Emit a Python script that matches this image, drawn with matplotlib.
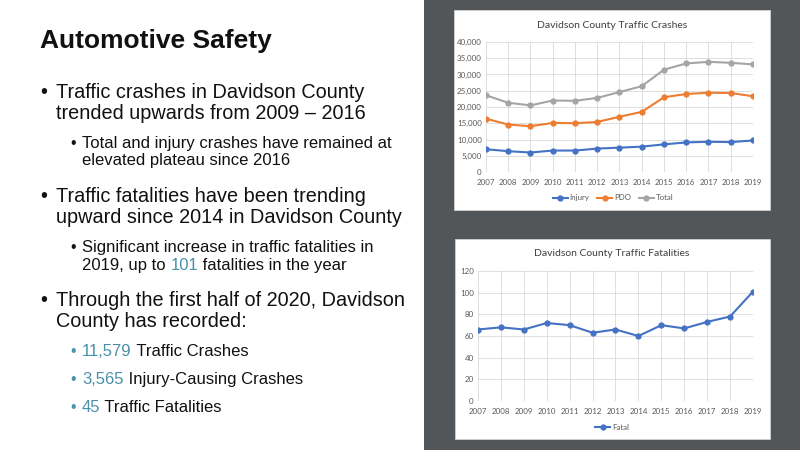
import matplotlib
matplotlib.use("Agg")
import matplotlib.pyplot as plt
from matplotlib.patches import Rectangle
from matplotlib.ticker import FuncFormatter

years = [2007, 2008, 2009, 2010, 2011, 2012, 2013, 2014, 2015, 2016, 2017, 2018, 2019]
injury = [7000, 6400, 6000, 6600, 6600, 7200, 7500, 7800, 8500, 9100, 9300, 9200, 9700]
pdo = [16400, 14600, 14100, 15100, 15000, 15400, 17000, 18500, 23000, 24000, 24400, 24300, 23300]
total = [23600, 21300, 20500, 22000, 21900, 22800, 24600, 26400, 31500, 33400, 33900, 33600, 33100]
fatal = [66, 68, 66, 72, 70, 63, 66, 60, 70, 67, 73, 78, 101]

W, H = 800, 450
fig = plt.figure(figsize=(8, 4.5), dpi=100)
fig.patch.set_facecolor("white")

TXT = "#111111"
HL = "#4a90ab"
SANS = "Liberation Sans"
CHART_FONT = "Lato"

def fx(px):
    return px / W

def fy(py):
    return 1 - py / H

# dark panel
fig.add_artist(Rectangle((fx(424), 0), 1 - fx(424), 1, transform=fig.transFigure,
                         facecolor="#525659", edgecolor="none", zorder=0))
# chart boxes
for (x0, y0, x1, y1) in [(454, 10, 770, 210), (455, 239, 770, 439)]:
    fig.add_artist(Rectangle((fx(x0), fy(y1)), fx(x1 - x0), (y1 - y0) / H,
                             transform=fig.transFigure, facecolor="white",
                             edgecolor="#d0d0d0", linewidth=0.6, zorder=1))

renderer = fig.canvas.get_renderer()

def runs(x_px, y_px, pieces, size):
    x = x_px
    for s, c in pieces:
        t = fig.text(fx(x), fy(y_px), s, color=c, fontsize=size, family=SANS,
                     va="baseline", ha="left")
        bb = t.get_window_extent(renderer=renderer)
        x += bb.width

# title
fig.text(fx(40), fy(48), "Automotive Safety", fontsize=19, fontweight="bold",
         family=SANS, color=TXT, va="baseline")

L1 = 14.3
L2 = 12.0
def bullet1(y, lines):
    fig.text(fx(40), fy(y), "\u2022", fontsize=L1, family=SANS, color=TXT, va="baseline")
    for i, ln in enumerate(lines):
        runs(55.5, y + i * 21.3, [(ln, TXT)], L1)

def bullet2(y, lines, bcol=TXT):
    fig.text(fx(70.5), fy(y), "\u2022", fontsize=L2 * 0.95, family=SANS, color=bcol, va="baseline")
    for i, ln in enumerate(lines):
        runs(82, y + i * 17.5, ln, L2)

bullet1(97.7, ["Traffic crashes in Davidson County", "trended upwards from 2009 \u2013 2016"])
bullet2(147.7, [[("Total and injury crashes have remained at", TXT)],
                [("elevated plateau since 2016", TXT)]])
bullet1(201.7, ["Traffic fatalities have been trending", "upward since 2014 in Davidson County"])
bullet2(252.3, [[("Significant increase in traffic fatalities in", TXT)],
                [("2019, up to ", TXT), ("101", HL), (" fatalities in the year", TXT)]])
bullet1(306, ["Through the first half of 2020, Davidson", "County has recorded:"])
bullet2(355.7, [[("11,579", HL), (" Traffic Crashes", TXT)]], HL)
bullet2(384, [[("3,565", HL), (" Injury-Causing Crashes", TXT)]], HL)
bullet2(412.3, [[("45", HL), (" Traffic Fatalities", TXT)]], HL)

TICK = "#595959"
GRID = "#d9d9d9"

def style_axes(ax):
    ax.set_facecolor("white")
    for s in ax.spines.values():
        s.set_visible(False)
    ax.grid(True, color=GRID, linewidth=0.6)
    ax.set_axisbelow(True)
    ax.set_xlim(years[0], years[-1])
    ax.set_xticks(years)
    ax.tick_params(axis="y", length=0, labelsize=5.7, colors=TICK, pad=3)
    ax.tick_params(axis="x", length=0, labelsize=5.7, colors=TICK, pad=5)
    for lab in ax.get_xticklabels() + ax.get_yticklabels():
        lab.set_family(CHART_FONT)

LW = 1.5
MS = 3.5

# top chart
ax1 = fig.add_axes([fx(486), fy(172), fx(753 - 486), 130 / H], zorder=2)
ax1.plot(years, injury, color="#4472C4", marker="o", markersize=MS, linewidth=LW, label="Injury")
ax1.plot(years, pdo, color="#ED7D31", marker="o", markersize=MS, linewidth=LW, label="PDO")
ax1.plot(years, total, color="#A5A5A5", marker="o", markersize=MS, linewidth=LW, label="Total")
ax1.set_ylim(0, 40000)
ax1.set_yticks(range(0, 40001, 5000))
ax1.yaxis.set_major_formatter(FuncFormatter(lambda v, p: f"{int(v):,}"))
style_axes(ax1)
fig.text(fx(612), fy(25), "Davidson County Traffic Crashes", ha="center", va="center",
         fontsize=7.5, family=CHART_FONT, color="#404040")
leg1 = ax1.legend(loc="center", bbox_to_anchor=(fx(613), fy(198)), bbox_transform=fig.transFigure,
                  ncol=3, frameon=False, handlelength=1.9, columnspacing=1.0,
                  handletextpad=0.2, prop={"family": CHART_FONT, "size": 5.7})
for t in leg1.get_texts():
    t.set_color(TICK)

# bottom chart
ax2 = fig.add_axes([fx(478), fy(401), fx(753 - 478), 130 / H], zorder=2)
ax2.plot(years, fatal, color="#4472C4", marker="o", markersize=MS, linewidth=LW, label="Fatal")
ax2.set_ylim(0, 120)
ax2.set_yticks(range(0, 121, 20))
style_axes(ax2)
fig.text(fx(612), fy(254), "Davidson County Traffic Fatalities", ha="center", va="center",
         fontsize=7.5, family=CHART_FONT, color="#404040")
leg2 = ax2.legend(loc="center", bbox_to_anchor=(fx(612), fy(427)), bbox_transform=fig.transFigure,
                  ncol=1, frameon=False, handlelength=1.9, handletextpad=0.2,
                  prop={"family": CHART_FONT, "size": 5.7})
for t in leg2.get_texts():
    t.set_color(TICK)

fig.savefig("out.png", dpi=100)
